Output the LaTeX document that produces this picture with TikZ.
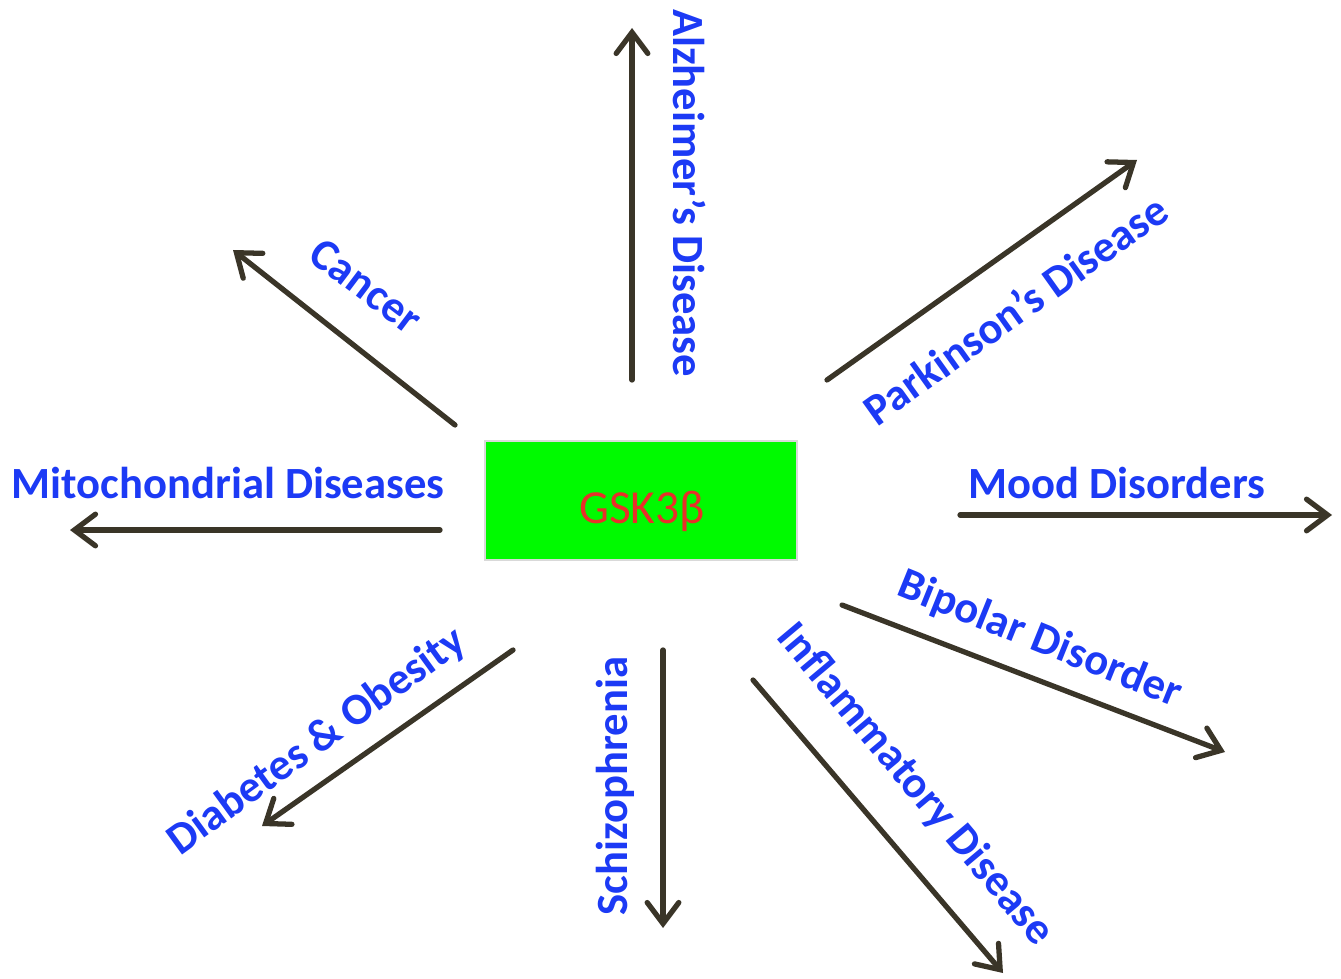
\documentclass[tikz,border=0pt]{standalone}
\usepackage{fontspec}
\setmainfont{Carlito}
\usetikzlibrary{arrows.meta}
\definecolor{lblblue}{RGB}{28,58,245}
\definecolor{arrowcol}{RGB}{58,53,40}
\definecolor{boxgreen}{RGB}{0,250,0}
\definecolor{gskred}{RGB}{232,48,42}
\tikzset{
  lbl/.style={text=lblblue, font=\fontsize{25.4}{30}\selectfont\bfseries, inner sep=0pt, anchor=center},
  conn/.style={draw=arrowcol, line width=3pt, line cap=round,
    -{Straight Barb[length=12pt,width=18pt,line cap=round]}},
  gskbox/.style={fill=boxgreen, draw=black!15, line width=0.6pt, minimum width=312*0.02cm, minimum height=119*0.02cm, inner sep=0pt},
  gsktext/.style={text=gskred, font=\fontsize{27}{32}\selectfont, inner sep=0pt, text depth=0pt, anchor=center}
}
\begin{document}
\begin{tikzpicture}[x=0.02cm,y=-0.02cm]
\useasboundingbox (0,0) rectangle (1341,979);
\node[gskbox] (gsk) at (641,500.5) {};
\node[gsktext] (gsklbl) at (642,507) {GSK3β};
% coordinates
\coordinate (alzS) at (632,380); \coordinate (alzE) at (632,28);
\coordinate (parS) at (827,380); \coordinate (parE) at (1137,160);
\coordinate (canS) at (455,425); \coordinate (canE) at (233,250);
\coordinate (mitS) at (440,530); \coordinate (mitE) at (70,530);
\coordinate (mooS) at (960,515); \coordinate (mooE) at (1332,515);
\coordinate (bipS) at (842,605); \coordinate (bipE) at (1225,752);
\coordinate (infS) at (753,680); \coordinate (infE) at (1003,973);
\coordinate (schS) at (663,650); \coordinate (schE) at (663,928);
\coordinate (diaS) at (513,650); \coordinate (diaE) at (262,826);
\draw[conn] (alzS) -- (alzE);
\draw[conn] (parS) -- (parE);
\draw[conn] (canS) -- (canE);
\draw[conn] (mitS) -- (mitE);
\draw[conn] (mooS) -- (mooE);
\draw[conn] (bipS) -- (bipE);
\draw[conn] (infS) -- (infE);
\draw[conn] (schS) -- (schE);
\draw[conn] (diaS) -- (diaE);
% labels
\node[lbl, rotate=-90] (alz) at (690,193) {Alzheimer’s Disease};
\node[lbl, rotate=35.5] (par) at (1015,309) {Parkinson’s Disease};
\node[lbl, rotate=-37] (can) at (366,286) {Cancer};
\node[lbl] (mit) at (228,483) {Mitochondrial Diseases};
\node[lbl] (moo) at (1117,483) {Mood Disorders};
\node[lbl, rotate=-22] (bip) at (1040,640) {Bipolar Disorder};
\node[lbl, rotate=-50] (inf) at (915,785) {Inflammatory Disease};
\node[lbl, rotate=90] (sch) at (615,786) {Schizophrenia};
\node[lbl, rotate=36] (dia) at (317,742) {Diabetes \& Obesity};
\end{tikzpicture}
\end{document}
